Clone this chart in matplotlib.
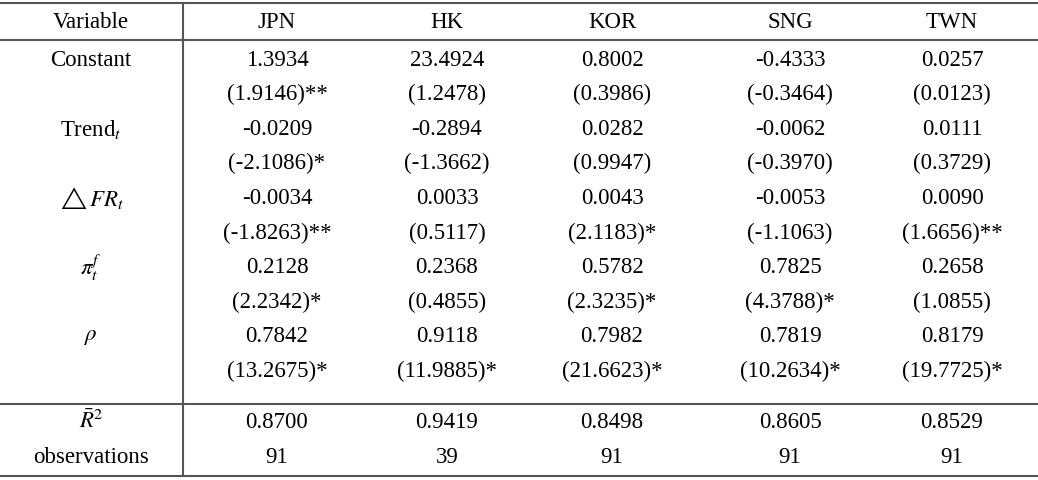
import matplotlib.pyplot as plt

plt.rcParams['font.family'] = ['Liberation Serif', 'DejaVu Serif']
plt.rcParams['mathtext.fontset'] = 'stix'

countries = ['JPN', 'HK', 'KOR', 'SNG', 'TWN']
row_labels = ['Constant', r'Trend$_t$', r'$\triangle FR_t$', r'$\pi_t^f$', r'$\rho$']
coefs = [
    ['1.3934', '23.4924', '0.8002', '-0.4333', '0.0257'],
    ['-0.0209', '-0.2894', '0.0282', '-0.0062', '0.0111'],
    ['-0.0034', '0.0033', '0.0043', '-0.0053', '0.0090'],
    ['0.2128', '0.2368', '0.5782', '0.7825', '0.2658'],
    ['0.7842', '0.9118', '0.7982', '0.7819', '0.8179'],
]
tstats = [
    ['(1.9146)**', '(1.2478)', '(0.3986)', '(-0.3464)', '(0.0123)'],
    ['(-2.1086)*', '(-1.3662)', '(0.9947)', '(-0.3970)', '(0.3729)'],
    ['(-1.8263)**', '(0.5117)', '(2.1183)*', '(-1.1063)', '(1.6656)**'],
    ['(2.2342)*', '(0.4855)', '(2.3235)*', '(4.3788)*', '(1.0855)'],
    ['(13.2675)*', '(11.9885)*', '(21.6623)*', '(10.2634)*', '(19.7725)*'],
]
r2 = ['0.8700', '0.9419', '0.8498', '0.8605', '0.8529']
obs = ['91', '39', '91', '91', '91']

fig = plt.figure(figsize=(10.38, 4.81), dpi=100)
ax = fig.add_axes([0, 0, 1, 1])
ax.set_xlim(0, 1038)
ax.set_ylim(481, 0)
ax.axis('off')

fs = 16.5
col_x = [91, 277, 447, 612, 790, 952]
lc = '#555555'

# rules
for y in [4, 41, 405, 477]:
    ax.plot([0, 1038], [y, y], color=lc, lw=1.5)
ax.plot([183, 183], [4, 477], color=lc, lw=1.5)

ax.text(col_x[0], 22, 'Variable', ha='center', va='center', fontsize=fs)
for x, c in zip(col_x[1:], countries):
    ax.text(x, 22, c, ha='center', va='center', fontsize=fs)

y0 = 60
pitch = 34.6
for i, lab in enumerate(row_labels):
    yc = y0 + 2 * i * pitch
    yt = yc + pitch
    ax.text(col_x[0], yc, lab, ha='center', va='center', fontsize=fs)
    for j in range(5):
        ax.text(col_x[j + 1], yc, coefs[i][j], ha='center', va='center', fontsize=fs)
        ax.text(col_x[j + 1], yt, tstats[i][j], ha='center', va='center', fontsize=fs)

ax.text(col_x[0], 421, r'$\bar{R}^2$', ha='center', va='center', fontsize=fs)
ax.text(col_x[0], 458, 'observations', ha='center', va='center', fontsize=fs)
for j in range(5):
    ax.text(col_x[j + 1], 423, r2[j], ha='center', va='center', fontsize=fs)
    ax.text(col_x[j + 1], 458, obs[j], ha='center', va='center', fontsize=fs)

fig.savefig('out.png', dpi=100)
